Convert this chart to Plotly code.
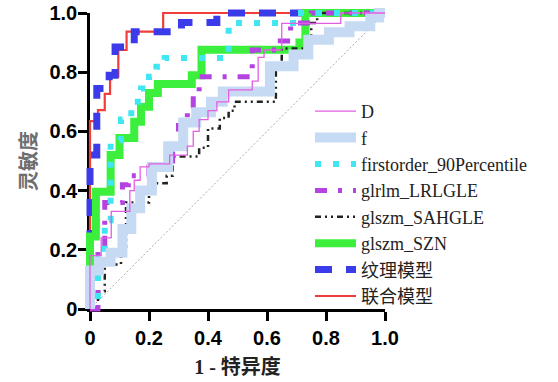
import plotly.graph_objects as go

# ---- data (ROC step points: 1 - specificity, sensitivity) ----
series_names = ["D", "f", "firstorder_90Percentile", "glrlm_LRLGLE",
                "glszm_SAHGLE", "glszm_SZN", "纹理模型", "联合模型"]

D_fpr = [0, 0, 0.038, 0.038, 0.072, 0.072, 0.135, 0.135, 0.15, 0.15, 0.17, 0.17, 0.20, 0.20, 0.27, 0.27,
         0.33, 0.33, 0.35, 0.35, 0.37, 0.37, 0.40, 0.40, 0.43, 0.43, 0.47, 0.47, 0.55, 0.55, 0.57, 0.57,
         0.59, 0.59, 0.65, 0.65, 0.85, 0.85, 1.0]
D_tpr = [0, 0.18, 0.18, 0.24, 0.24, 0.33, 0.33, 0.40, 0.40, 0.435, 0.435, 0.48, 0.48, 0.49, 0.49, 0.52,
         0.52, 0.55, 0.55, 0.60, 0.60, 0.64, 0.64, 0.67, 0.67, 0.70, 0.70, 0.74, 0.74, 0.77, 0.77, 0.85,
         0.85, 0.875, 0.875, 0.965, 0.965, 1.0, 1.0]

f_fpr = [0, 0, 0.03, 0.03, 0.07, 0.07, 0.11, 0.11, 0.14, 0.14, 0.17, 0.17, 0.21, 0.21, 0.265, 0.265,
         0.316, 0.316, 0.36, 0.36, 0.41, 0.41, 0.45, 0.45, 0.61, 0.61, 0.69, 0.69, 0.74, 0.74, 0.81, 0.81,
         0.88, 0.88, 0.95, 0.95, 0.98, 0.98, 1.0]
f_tpr = [0, 0.13, 0.13, 0.16, 0.16, 0.19, 0.19, 0.27, 0.27, 0.34, 0.34, 0.40, 0.40, 0.48, 0.48, 0.55,
         0.55, 0.63, 0.63, 0.665, 0.665, 0.70, 0.70, 0.735, 0.735, 0.82, 0.82, 0.86, 0.86, 0.91, 0.91, 0.935,
         0.935, 0.955, 0.955, 0.985, 0.985, 1.0, 1.0]

fo_fpr = [0, 0, 0.027, 0.027, 0.05, 0.05, 0.07, 0.07, 0.105, 0.105, 0.14, 0.14, 0.173, 0.173, 0.2, 0.2,
          0.225, 0.225, 0.253, 0.253, 0.47, 0.47, 0.70, 0.70, 1.0]
fo_tpr = [0, 0.03, 0.03, 0.17, 0.17, 0.30, 0.30, 0.57, 0.57, 0.64, 0.64, 0.70, 0.70, 0.745, 0.745, 0.785,
          0.785, 0.818, 0.818, 0.848, 0.848, 0.966, 0.966, 1.0, 1.0]

glrlm_fpr = [0, 0.027, 0.027, 0.05, 0.05, 0.11, 0.11, 0.13, 0.13, 0.20, 0.20, 0.26, 0.26, 0.28, 0.28, 0.30,
             0.30, 0.33, 0.33, 0.35, 0.35, 0.37, 0.37, 0.55, 0.55, 0.645, 0.645, 0.68, 0.68, 0.75, 0.75, 1.0]
glrlm_tpr = [0, 0, 0.21, 0.21, 0.36, 0.36, 0.42, 0.42, 0.45, 0.45, 0.48, 0.48, 0.50, 0.50, 0.55, 0.55,
             0.62, 0.62, 0.665, 0.665, 0.72, 0.72, 0.785, 0.785, 0.875, 0.875, 0.905, 0.905, 0.966, 0.966, 1.0, 1.0]

sah_fpr = [0, 0.027, 0.027, 0.05, 0.05, 0.105, 0.105, 0.122, 0.122, 0.20, 0.20, 0.26, 0.26, 0.28, 0.28, 0.37,
           0.37, 0.40, 0.40, 0.44, 0.44, 0.47, 0.47, 0.49, 0.49, 0.63, 0.63, 0.65, 0.65, 0.75, 0.75, 0.77, 0.77, 1.0]
sah_tpr = [0, 0, 0.06, 0.06, 0.15, 0.15, 0.21, 0.21, 0.36, 0.36, 0.425, 0.425, 0.45, 0.45, 0.515, 0.515,
           0.545, 0.545, 0.61, 0.61, 0.645, 0.645, 0.67, 0.67, 0.70, 0.70, 0.82, 0.82, 0.88, 0.88, 0.966, 0.966, 1.0, 1.0]

szn_fpr = [0, 0, 0.02, 0.02, 0.07, 0.07, 0.10, 0.10, 0.15, 0.15, 0.173, 0.173, 0.20, 0.20, 0.23, 0.23,
           0.345, 0.345, 0.378, 0.378, 0.71, 0.71, 0.73, 0.73, 1.0]
szn_tpr = [0, 0.245, 0.245, 0.396, 0.396, 0.52, 0.52, 0.578, 0.578, 0.633, 0.633, 0.683, 0.683, 0.73, 0.73, 0.76,
           0.76, 0.79, 0.79, 0.876, 0.876, 0.90, 0.90, 1.0, 1.0]

tex_fpr = [0, 0, 0.023, 0.023, 0.065, 0.065, 0.085, 0.085, 0.15, 0.15, 0.31, 0.31, 0.43, 0.43, 1.0]
tex_tpr = [0, 0.52, 0.52, 0.745, 0.745, 0.79, 0.79, 0.885, 0.885, 0.937, 0.937, 0.968, 0.968, 1.0, 1.0]

comb_fpr = [0, 0, 0.027, 0.027, 0.05, 0.05, 0.068, 0.068, 0.096, 0.096, 0.124, 0.124, 0.248, 0.248, 1.0]
comb_tpr = [0, 0.635, 0.635, 0.672, 0.672, 0.727, 0.727, 0.785, 0.785, 0.875, 0.875, 0.937, 0.937, 1.0, 1.0]

ref_line = [0, 1]
tick_vals = [0, 0.2, 0.4, 0.6, 0.8, 1.0]
tick_text = ["0", "0.2", "0.4", "0.6", "0.8", "1.0"]

# ---- geometry (page body margin removed by post_script) ----
W, H = 558, 382
ML, MR, MT, MB = 80, 163, 0, 65
PW, PH = W - ML - MR, H - MT - MB
X0PX, X1PX = 10, 305          # px inside plot area where x=0, x=1
Y0PX, Y1PX = 8, 304           # px above plot bottom where y=0, y=1
xr = [-X0PX / (X1PX - X0PX), -X0PX / (X1PX - X0PX) + PW / (X1PX - X0PX)]
yr = [-Y0PX / (Y1PX - Y0PX), -Y0PX / (Y1PX - Y0PX) + PH / (Y1PX - Y0PX)]

fig = go.Figure()

# chance line on the visible axes (drawn first, underneath)
fig.add_trace(go.Scatter(x=ref_line, y=ref_line, mode="lines", showlegend=False,
                         line=dict(color="#aaaaaa", width=1, dash="2px,2px"),
                         xaxis="x", yaxis="y", hoverinfo="skip"))

styles = [
    ("联合模型", comb_fpr, comb_tpr, dict(color="#f23d3d", width=2.2)),
    ("纹理模型", tex_fpr, tex_tpr, dict(color="#3b3bea", width=7, dash="17px,14px")),
    ("glszm_SZN", szn_fpr, szn_tpr, dict(color="#3cef3c", width=8)),
    ("glszm_SAHGLE", sah_fpr, sah_tpr, dict(color="#222222", width=2.5, dash="6px,4px,2px,4px,2px,4px")),
    ("glrlm_LRLGLE", glrlm_fpr, glrlm_tpr, dict(color="#b443e2", width=5, dash="12px,11px,4px,11px")),
    ("firstorder_90Percentile", fo_fpr, fo_tpr, dict(color="#40e6f2", width=6, dash="6px,12px")),
    ("f", f_fpr, f_tpr, dict(color="#c6dbf3", width=10)),
    ("D", D_fpr, D_tpr, dict(color="#e35ee3", width=1.3)),
]
for name, xs, ys, ln in styles:
    fig.add_trace(go.Scatter(x=xs, y=ys, mode="lines", name=name, line=ln,
                             xaxis="x2", yaxis="y2"))

tickfont = dict(family="Liberation Sans", size=20, color="#000000", weight="bold")

fig.update_layout(
    width=W, height=H,
    margin=dict(l=ML, r=MR, t=MT, b=MB, pad=0, autoexpand=False),
    paper_bgcolor="white", plot_bgcolor="rgba(0,0,0,0)",
    showlegend=True,
    legend=dict(traceorder="reversed", xref="container", yref="container",
                x=310 / W, y=1 - 93 / H, xanchor="left", yanchor="top",
                itemwidth=41, maxheight=340, bgcolor="rgba(0,0,0,0)",
                font=dict(family="Liberation Serif, Noto Sans CJK SC", size=18, color="#222222")),
    xaxis=dict(domain=[X0PX / PW, X1PX / PW], range=[0, 1], anchor="y",
               showline=True, linecolor="black", linewidth=2.5, layer="below traces",
               ticks="outside", ticklen=9, tickwidth=2.5, tickcolor="black",
               tickvals=tick_vals, ticktext=tick_text, tickfont=tickfont,
               ticklabeloverflow="allow",
               showgrid=False, zeroline=False, fixedrange=True,
               title=dict(text="<b>1 - 特异度</b>", standoff=13,
                          font=dict(family="Liberation Serif, Noto Sans CJK SC", size=20, color="#222222"))),
    yaxis=dict(domain=[Y0PX / PH, Y1PX / PH], range=[0, 1], anchor="x",
               showline=True, linecolor="black", linewidth=2.5, layer="below traces",
               ticks="outside", ticklen=9, tickwidth=2.5, tickcolor="black",
               tickvals=tick_vals, ticktext=tick_text, tickfont=tickfont,
               ticklabelstandoff=-3, ticklabeloverflow="allow",
               showgrid=False, zeroline=False, fixedrange=True,
               title=dict(text="<b>灵敏度</b>", standoff=8,
                          font=dict(family="Noto Sans CJK SC", size=20, color="#6e6e6e"))),
    xaxis2=dict(domain=[0, 1], range=xr, anchor="y2", visible=False, fixedrange=True),
    yaxis2=dict(domain=[0, 1], range=yr, anchor="x2", visible=False, fixedrange=True),
)

fig.write_html("out.html", config={"displayModeBar": False},
               post_script="document.body.style.margin='0px';")
